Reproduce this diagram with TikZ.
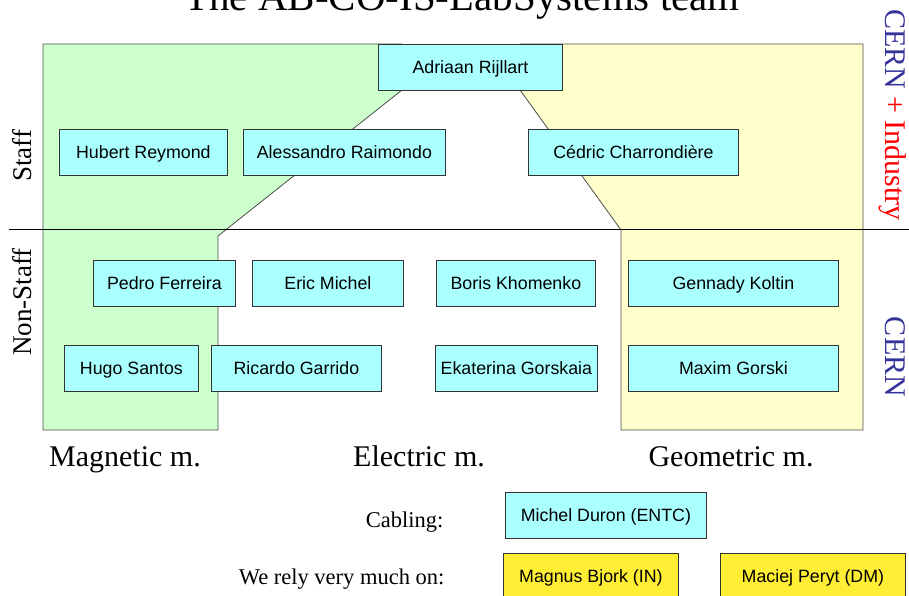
\documentclass[tikz,border=0pt]{standalone}
\usepackage{fontspec}
\setmainfont{Liberation Serif}
\setsansfont{Liberation Sans}
\usepackage{xcolor}
\usetikzlibrary{positioning,calc}
\definecolor{membercyan}{HTML}{AAFFFF}
\definecolor{helpyellow}{HTML}{FFEE33}
\definecolor{magngreen}{HTML}{CCFFCC}
\definecolor{geomyellow}{HTML}{FFFFCC}
\definecolor{cernblue}{HTML}{333399}
\definecolor{boxline}{HTML}{333333}
\tikzset{
  member/.style = {draw = boxline, line width = .8pt, fill = membercyan, anchor = north west,
    minimum height = 46pt, inner sep = 0pt, text height = 12.7pt, text depth = 0pt,
    font = \sffamily\fontsize{17.8}{20}\selectfont},
  helper/.style = {member, fill = helpyellow},
  section/.style = {draw = black!70, line width = .8pt},
  serif/.style = {font = \fontsize{#1}{#1}\selectfont}
}

\begin{document}
\begin{tikzpicture}[x = 1pt, y = -1pt]
\useasboundingbox (0,0) rectangle (909,596);
%\draw[help lines, step = 50] (0,0) grid (909,596);
\node[serif = 41, anchor = base] (title) at (462,11) {The AB-CO-IS-LabSystems team};

% the two method areas
\fill[magngreen] (43,44) -- (402,44) -- (402,90) -- (218,236) -- (218,430) -- (43,430) -- cycle;
\draw[section] (402,44) -- (43,44) -- (43,430) -- (218,430) -- (218,236) -- (402,90);
\fill[geomyellow] (520,44) -- (863,44) -- (863,430) -- (621,430) -- (621,230) -- (520,90) -- cycle;
\draw[section] (520,44) -- (863,44) -- (863,430) -- (621,430) -- (621,230) -- (520,90);
\draw[line width = .8pt] (9,229) -- (909,229);

% staff
\node[member, minimum width = 184pt] (adriaan) at (378,44) {Adriaan Rijllart};
\node[member, minimum width = 168pt] (hubert) at (59,129) {Hubert Reymond};
\node[member, minimum width = 202pt] (alessandro) at (243,129) {Alessandro Raimondo};
\node[member, minimum width = 210pt] (cedric) at (528,129) {Cédric Charrondière};

% non-staff
\node[member, minimum width = 142pt] (pedro) at (93,260) {Pedro Ferreira};
\node[member, minimum width = 151pt] (eric) at (252,260) {Eric Michel};
\node[member, minimum width = 159pt] (boris) at (436,260) {Boris Khomenko};
\node[member, minimum width = 210pt] (gennady) at (628,260) {Gennady Koltin};
\node[member, minimum width = 134pt] (hugo) at (64,345) {Hugo Santos};
\node[member, minimum width = 170pt] (ricardo) at (211,345) {Ricardo Garrido};
\node[member, minimum width = 162pt] (ekaterina) at (435,345) {Ekaterina Gorskaia};
\node[member, minimum width = 210pt] (maxim) at (628,345) {Maxim Gorski};

% side labels
\node[serif = 27, rotate = 90] (staff) at (22,156) {Staff};
\node[serif = 27, rotate = 90] (nonstaff) at (22,302) {Non-Staff};
\node[serif = 30, rotate = -90] (industry) at (893,115) {\textcolor{cernblue}{CERN} \textcolor{red}{+ Industry}};
\node[serif = 30, rotate = -90, text = cernblue] (cern) at (895,357) {CERN};

\node[serif = 30, anchor = base] (magnetic) at (125,466) {Magnetic m.};
\node[serif = 30, anchor = base] (electric) at (419,466) {Electric m.};
\node[serif = 30, anchor = base] (geometric) at (731,466) {Geometric m.};

% outside help
\node[serif = 22.5, anchor = base east] (cabling) at (447,527) {Cabling:};
\node[member, minimum width = 201pt] (michel) at (505,492) {Michel Duron (ENTC)};
\node[serif = 22.5, anchor = base east] (rely) at (448,584) {We rely very much on:};
\node[helper, minimum width = 175pt] (magnus) at (503,553) {Magnus Bjork (IN)};
\node[helper, minimum width = 185pt] (maciej) at (720,553) {Maciej Peryt (DM)};
\end{tikzpicture}
\end{document}
